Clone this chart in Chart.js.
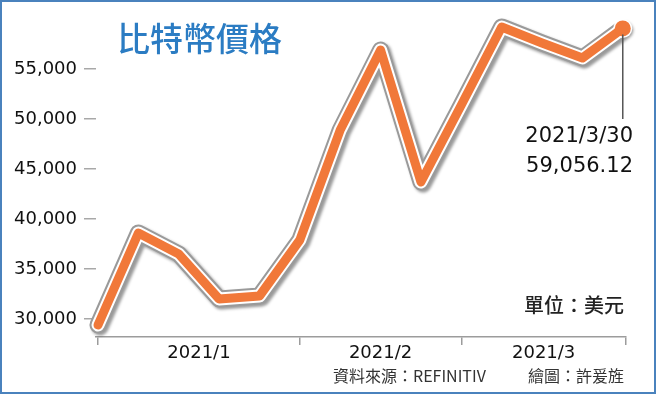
<!DOCTYPE html>
<html>
<head>
<meta charset="utf-8">
<script src="https://cdn.jsdelivr.net/npm/chart.js@4.4.1/dist/chart.umd.min.js"></script>
<style>
  html, body { margin: 0; padding: 0; background: #fff; }
  #wrap { width: 656px; height: 394px; position: relative; }
</style>
</head>
<body>
<div id="wrap"><canvas id="btcChart"></canvas></div>
<script>
// Bitcoin closing prices (USD)
const prices = [29400, 38600, 36500, 32000, 32300, 37900, 48900, 56900, 43700, 51400, 59200, 57600, 56100, 59056.12];
const monthLabels = ["2021/1", "2021/2", "2021/3"];
const monthStarts = [0, 5, 9]; // index of first point in each month
const yTicks = [30000, 35000, 40000, 45000, 50000, 55000];
const lastDate = "2021/3/30";
const lastValue = "59,056.12";

const ORANGE = "#f17839";
const NUM_FONT = "'DejaVu Sans', sans-serif";
const CJK_FONT = "'Noto Sans CJK TC', 'Noto Sans CJK SC', sans-serif";

const points = prices.map((v, i) => ({ x: i, y: v }));
const lastIdx = prices.length - 1;

// shadow under the gray outline
const shadowPlugin = {
  id: "lineShadow",
  beforeDatasetDraw(chart, args) {
    if (args.index !== 2) return;
    const ctx = chart.ctx;
    ctx.save();
    ctx.shadowColor = "rgba(0,0,0,0.4)";
    ctx.shadowBlur = 3;
    ctx.shadowOffsetX = 2;
    ctx.shadowOffsetY = 2;
  },
  afterDatasetDraw(chart, args) {
    if (args.index !== 2) return;
    chart.ctx.restore();
  }
};

// title, annotation, unit, credits, frame
const decorPlugin = {
  id: "decor",
  afterDraw(chart) {
    const ctx = chart.ctx;
    const xs = chart.scales.x, ys = chart.scales.y;
    ctx.save();

    // title
    ctx.fillStyle = "#2b7cc3";
    ctx.font = "500 33px " + CJK_FONT;
    ctx.textAlign = "left";
    ctx.textBaseline = "middle";
    ctx.fillText("比特幣價格", 117, 38);

    // annotation for last point
    const px = xs.getPixelForValue(lastIdx);
    const py = ys.getPixelForValue(prices[lastIdx]);
    ctx.strokeStyle = "#555";
    ctx.lineWidth = 1.5;
    ctx.beginPath();
    ctx.moveTo(px, py + 6);
    ctx.lineTo(px, 119);
    ctx.stroke();

    ctx.fillStyle = "#111";
    ctx.font = "21px " + NUM_FONT;
    ctx.textAlign = "right";
    ctx.fillText(lastDate, 633, 137);
    ctx.fillText(lastValue, 633, 167);

    // unit
    ctx.font = "500 20px " + CJK_FONT;
    ctx.fillStyle = "#222";
    ctx.fillText("單位：美元", 624, 305);

    // credits
    ctx.font = "16px " + CJK_FONT;
    ctx.fillStyle = "#333";
    ctx.textAlign = "left";
    ctx.fillText("資料來源：REFINITIV", 333, 376);
    ctx.textAlign = "right";
    ctx.fillText("繪圖：許爰旌", 624, 376);

    // frame
    ctx.strokeStyle = "#4a82bd";
    ctx.lineWidth = 2;
    ctx.strokeRect(1, 1, chart.width - 2, chart.height - 2);
    ctx.restore();
  }
};

new Chart(document.getElementById("btcChart"), {
  type: "line",
  data: {
    datasets: [
      {
        data: points,
        borderColor: ORANGE,
        borderWidth: 9,
        borderJoinStyle: "round",
        borderCapStyle: "round",
        pointRadius: (c) => (c.dataIndex === lastIdx ? 8 : 0),
        pointBackgroundColor: ORANGE,
        pointBorderWidth: 0,
        clip: false
      },
      {
        data: points,
        borderColor: "#ffffff",
        borderWidth: 13,
        borderJoinStyle: "round",
        borderCapStyle: "round",
        pointRadius: (c) => (c.dataIndex === lastIdx ? 9.5 : 0),
        pointBackgroundColor: "#ffffff",
        pointBorderWidth: 0,
        clip: false
      },
      {
        data: points,
        borderColor: "#9a9a9a",
        borderWidth: 17,
        borderJoinStyle: "round",
        borderCapStyle: "round",
        pointRadius: 0,
        clip: false
      }
    ]
  },
  options: {
    responsive: true,
    maintainAspectRatio: false,
    animation: false,
    layout: { padding: { top: 19, right: 30, left: 0, bottom: 0 } },
    plugins: { legend: { display: false }, tooltip: { enabled: false } },
    scales: {
      x: {
        type: "linear",
        min: -0.05,
        max: 13.08,
        afterFit: (s) => { s.height = 57; },
        afterBuildTicks: (s) => {
          const edges = monthStarts.concat([s.max]);
          const ticks = edges.map((v) => ({ value: v, edge: true, name: "" }));
          monthLabels.forEach((m, i) => {
            ticks.push({ value: (edges[i] + edges[i + 1]) / 2, edge: false, name: m });
          });
          ticks.sort((a, b) => a.value - b.value);
          s.ticks = ticks;
        },
        border: { display: true, color: "#9c9c9c", width: 1.5 },
        grid: {
          drawOnChartArea: false,
          tickLength: 8,
          lineWidth: 1.5,
          color: (c) => (c.tick && c.tick.edge ? "#9c9c9c" : "rgba(0,0,0,0)")
        },
        ticks: {
          autoSkip: false,
          maxRotation: 0,
          padding: -2,
          color: "#111",
          font: { family: NUM_FONT, size: 18 },
          callback: (v, i, t) => t[i].name
        }
      },
      y: {
        min: 28200,
        max: 60000,
        afterFit: (s) => { s.width = 96; },
        afterBuildTicks: (s) => { s.ticks = yTicks.map((v) => ({ value: v })); },
        border: { display: false },
        grid: {
          drawOnChartArea: false,
          tickLength: 12,
          lineWidth: 1.5,
          color: "#a8a8a8"
        },
        ticks: {
          padding: 7,
          color: "#111",
          font: { family: NUM_FONT, size: 18 },
          callback: (v) => v.toLocaleString("en-US")
        }
      }
    }
  },
  plugins: [shadowPlugin, decorPlugin]
});
</script>
</body>
</html>
